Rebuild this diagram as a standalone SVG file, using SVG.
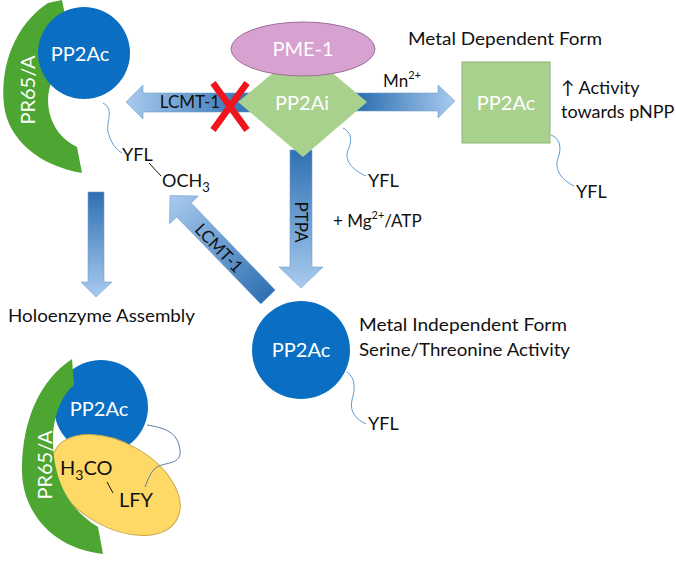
<svg xmlns="http://www.w3.org/2000/svg" width="676" height="573" viewBox="0 0 676 573">
<defs>
<linearGradient id="gL" x1="126" y1="0" x2="250" y2="0" gradientUnits="userSpaceOnUse"><stop offset="0" stop-color="#a9cbee"/><stop offset="1" stop-color="#2f70b2"/></linearGradient>
<linearGradient id="gR" x1="360" y1="0" x2="455" y2="0" gradientUnits="userSpaceOnUse"><stop offset="0" stop-color="#2f70b2"/><stop offset="1" stop-color="#a9cbee"/></linearGradient>
<linearGradient id="gD" x1="0" y1="150" x2="0" y2="288" gradientUnits="userSpaceOnUse"><stop offset="0" stop-color="#2f70b2"/><stop offset="1" stop-color="#a9cbee"/></linearGradient>
<linearGradient id="gH" x1="0" y1="192" x2="0" y2="297" gradientUnits="userSpaceOnUse"><stop offset="0" stop-color="#2f70b2"/><stop offset="1" stop-color="#a9cbee"/></linearGradient>
<linearGradient id="gG" x1="0" y1="0" x2="141" y2="0" gradientUnits="userSpaceOnUse"><stop offset="0" stop-color="#2f70b2"/><stop offset="1" stop-color="#a9cbee"/></linearGradient>
</defs>
<style>
text{font-family:Lato,"Open Sans",sans-serif;fill:#111}
.w{fill:#fff}
.blue{fill:#0a6fc2}
.grn{fill:#4da532}
.lg{fill:#a9d18e}
.tail{fill:none;stroke:#5b9bd5;stroke-width:1}
.tail2{fill:none;stroke:#5a7da6;stroke-width:1}
.arr{stroke:#6f9fcf;stroke-width:0.6}
</style>

<g id="connectors">
<polygon class="arr" fill="url(#gL)" points="126,102 143,85 143,93 255,93 255,112 143,112 143,119"/>
<polygon class="arr" fill="url(#gR)" points="355,93 438,93 438,85 455,101 438,118 438,111 355,111"/>
<polygon class="arr" fill="url(#gD)" points="290,150 312,150 312,267 323,267 301,288 279,267 290,267"/>
<polygon class="arr" fill="url(#gH)" points="88,192 104,192 104,282 112,282 96,297 81,282 88,282"/>
<g transform="translate(268,297) rotate(-134)"><polygon class="arr" fill="url(#gG)" points="0,-10 121,-10 121,-20 141,0 121,20 121,10 0,10"/></g>
<text x="190" y="108" font-size="17" text-anchor="middle">LCMT-1</text>
<text transform="translate(301,222) rotate(90)" font-size="17" text-anchor="middle" dy="6">PTPA</text>
<text transform="translate(219,248) rotate(46)" font-size="17" text-anchor="middle" dy="6">LCMT-1</text>
<g id="xmark" stroke="#f0141e" stroke-width="6.5" stroke-linecap="butt"><line x1="213" y1="83" x2="247" y2="130"/><line x1="247" y1="83" x2="213" y2="130"/></g>
</g>

<g id="complex-top">
<path class="grn" d="M48,3 L62,0 L70,40 L50,86 C44,108 52,135 77,147 L82,173 C40,166 8,140 4,105 C0,65 15,25 48,3 Z"/>
<circle class="blue" cx="84" cy="53" r="46"/>
<text class="w" x="80" y="61" font-size="20" text-anchor="middle">PP2Ac</text>
<text class="w" transform="translate(28,90) rotate(-90)" font-size="20" text-anchor="middle" dy="7">PR65/A</text>
<path class="tail" d="M103,103 C116,110 104,124 109,135 C112,145 117,150 122,153"/>
<text x="122" y="161" font-size="18">YFL</text>
<line x1="149" y1="163" x2="161" y2="176" stroke="#111" stroke-width="1"/>
<text x="162" y="187" font-size="18">OCH<tspan font-size="13" dy="5">3</tspan></text>
</g>

<g id="pp2ai">
<polygon class="lg" points="238,102 303,48 367,102 303,157"/>
<text class="w" x="302" y="110" font-size="20" text-anchor="middle">PP2Ai</text>
<path class="tail" d="M343,128 C352,132 352,142 348,150 C344,160 352,170 366,176"/>
<text x="368" y="187" font-size="18">YFL</text>
</g>

<g id="pme1">
<ellipse cx="303" cy="49" rx="72" ry="27" fill="#d7a2cf" stroke="#9c6f96" stroke-width="1"/>
<text class="w" x="303" y="56" font-size="20" text-anchor="middle">PME-1</text>
</g>

<g id="labels-top">
<text x="383" y="87" font-size="17">Mn<tspan font-size="11" dy="-8">2+</tspan></text>
<text x="408" y="45" font-size="17" textLength="194" lengthAdjust="spacingAndGlyphs">Metal Dependent Form</text>
</g>

<g id="pp2ac-metal">
<rect x="462" y="62" width="88" height="81" fill="#a9d18e" stroke="#8fb378" stroke-width="1"/>
<text class="w" x="506" y="110" font-size="20" text-anchor="middle">PP2Ac</text>
<text x="561" y="94" font-size="18">↑ Activity</text>
<text x="561" y="118" font-size="18">towards pNPP</text>
<path class="tail" d="M551,135 C560,138 562,148 558,158 C554,170 562,180 574,186"/>
<text x="576" y="198" font-size="18">YFL</text>
</g>

<g id="mg-label">
<text x="333" y="227" font-size="17">+ Mg<tspan font-size="11" dy="-8">2+</tspan><tspan dy="8">/ATP</tspan></text>
</g>

<g id="pp2ac-free">
<circle class="blue" cx="301" cy="350" r="49"/>
<text class="w" x="301" y="357" font-size="20" text-anchor="middle">PP2Ac</text>
<text x="359" y="331" font-size="18" textLength="208" lengthAdjust="spacingAndGlyphs">Metal Independent Form</text>
<text x="359" y="356" font-size="18" textLength="211" lengthAdjust="spacingAndGlyphs">Serine/Threonine Activity</text>
<path class="tail" d="M347,372 C356,378 355,390 352,400 C349,412 357,420 366,424"/>
<text x="368" y="430" font-size="18">YFL</text>
</g>

<g id="holoenzyme-label">
<text x="8" y="322" font-size="17" textLength="187" lengthAdjust="spacingAndGlyphs">Holoenzyme Assembly</text>
</g>

<g id="holoenzyme">
<circle class="blue" cx="101" cy="407" r="47"/>
<ellipse cx="116" cy="485" rx="70" ry="42" transform="rotate(30 116 485)" fill="#ffd966" stroke="#c9a74c" stroke-width="1"/>
<path class="grn" d="M72,359 L74,385 C62,395 55,412 53,433 C52,470 62,505 98,527 L103,554 C50,548 22,510 22,470 C22,420 40,380 72,359 Z"/>
<text class="w" x="99" y="416" font-size="20" text-anchor="middle">PP2Ac</text>
<text class="w" transform="translate(45,465) rotate(-90)" font-size="20" text-anchor="middle" dy="7">PR65/A</text>
<path class="tail2" d="M147,425 C165,428 178,432 180,450 C182,465 165,462 157,467 C150,472 148,480 145,487"/>
<text x="60" y="475" font-size="20">H<tspan font-size="14" dy="5">3</tspan><tspan dy="-5">CO</tspan></text>
<line x1="107" y1="482" x2="113" y2="493" stroke="#111" stroke-width="1"/>
<text x="119" y="507" font-size="20">LFY</text>
</g>
</svg>
